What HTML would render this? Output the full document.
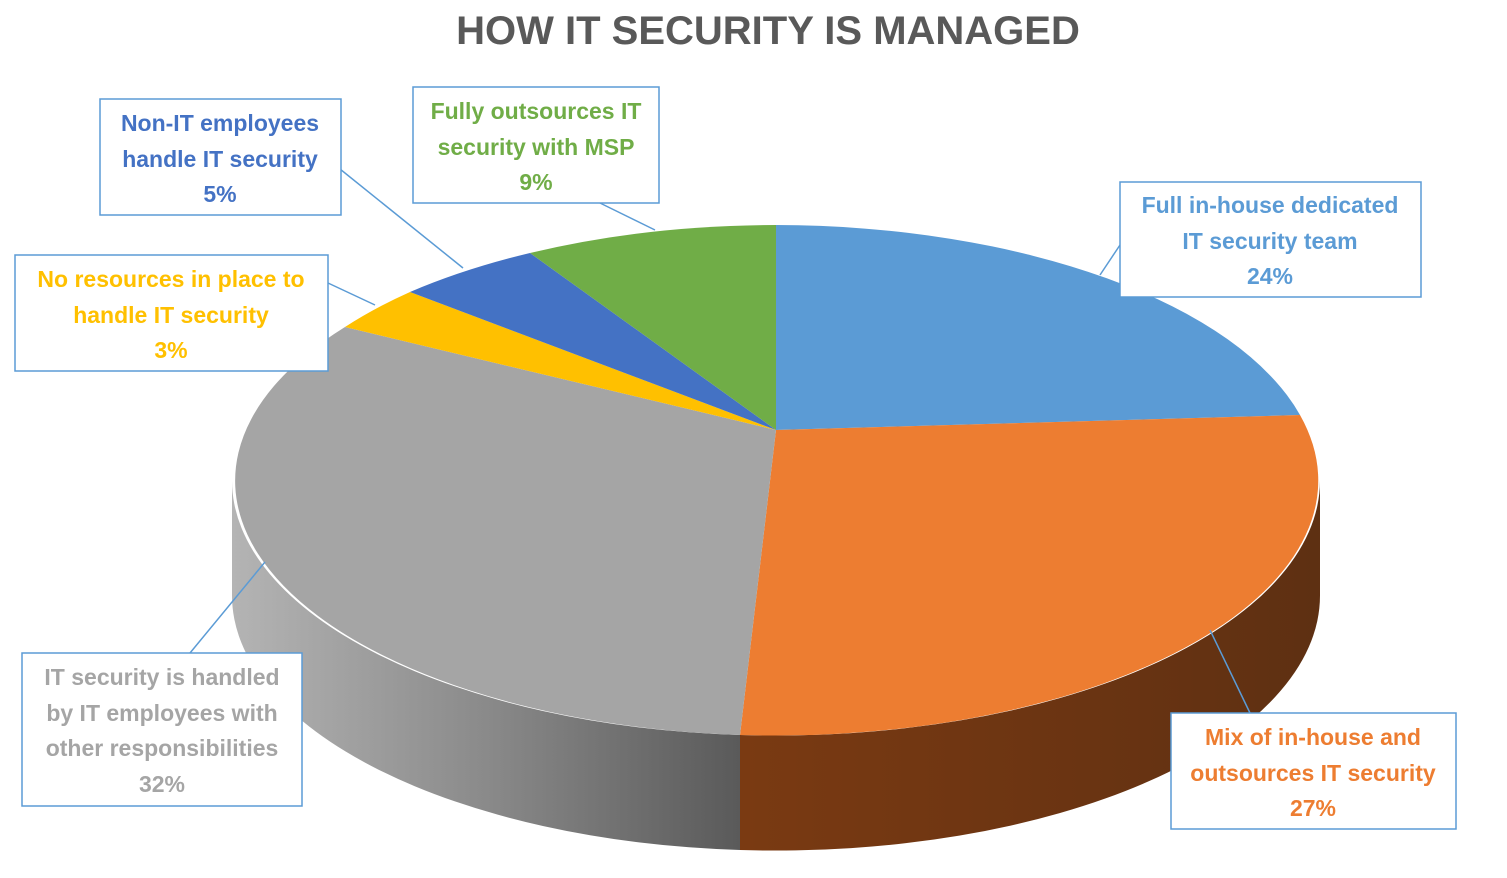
<!DOCTYPE html>
<html><head><style>
body{margin:0;background:#fff;}
svg text{font-family:"Liberation Sans",sans-serif;font-weight:bold;}
</style></head><body>
<svg width="1507" height="873" viewBox="0 0 1507 873" xmlns="http://www.w3.org/2000/svg">
<defs>
<linearGradient id="gs" x1="0" x2="1" y1="0" y2="0">
<stop offset="0" stop-color="#b4b4b4"/><stop offset="0.5" stop-color="#8a8a8a"/><stop offset="1" stop-color="#5a5a5a"/></linearGradient>
<linearGradient id="os" x1="0" x2="1" y1="0" y2="0">
<stop offset="0" stop-color="#7a3a12"/><stop offset="0.6" stop-color="#6a3412"/><stop offset="1" stop-color="#5e3012"/></linearGradient>
</defs>
<text x="768" y="44" text-anchor="middle" font-size="40" fill="#595959">HOW IT SECURITY IS MANAGED</text>
<!-- sides -->
<path d="M232,480 A544,255 0 0 0 740,735 L740,850 A544,255 0 0 1 232,595 Z" fill="url(#gs)"/>
<path d="M740,735 A544,255 0 0 0 1320,480 L1320,595 A544,255 0 0 1 740,850 Z" fill="url(#os)"/>
<!-- top -->
<path d="M776,430 L776,225 A544,255 0 0 1 1300,415 Z" fill="#5B9BD5"/>
<path d="M776,430 L1300,415 A544,255 0 0 1 740,735 Z" fill="#ED7D31"/>
<path d="M776,430 L740,735 A544,255 0 0 1 345,327 Z" fill="#A5A5A5"/>
<path d="M776,430 L345,327 A544,255 0 0 1 410,292 Z" fill="#FFC000"/>
<path d="M776,430 L410,292 A544,255 0 0 1 530,253 Z" fill="#4472C4"/>
<path d="M776,430 L530,253 A544,255 0 0 1 776,225 Z" fill="#70AD47"/>
<g stroke="#5B9BD5" stroke-width="1.5" fill="#fff">
<line x1="335" y1="165" x2="463" y2="268"/>
<line x1="600" y1="203" x2="655" y2="230"/>
<line x1="1120" y1="245" x2="1100" y2="275"/>
<line x1="328" y1="283" x2="375" y2="305"/>
<line x1="190" y1="653" x2="265" y2="562"/>
<line x1="1210" y1="630" x2="1250" y2="713"/>
<rect x="100" y="99" width="241" height="116"/>
<rect x="413" y="87" width="246" height="116"/>
<rect x="1120" y="182" width="301" height="115"/>
<rect x="15" y="255" width="313" height="116"/>
<rect x="22" y="653" width="280" height="153"/>
<rect x="1171" y="713" width="285" height="116"/>
</g>
<g font-size="23" text-anchor="middle">
<g fill="#4472C4"><text x="220" y="131">Non-IT employees</text><text x="220" y="167">handle IT security</text><text x="220" y="202">5%</text></g>
<g fill="#70AD47"><text x="536" y="119">Fully outsources IT</text><text x="536" y="155">security with MSP</text><text x="536" y="190">9%</text></g>
<g fill="#5B9BD5"><text x="1270" y="213">Full in-house dedicated</text><text x="1270" y="249">IT security team</text><text x="1270" y="284">24%</text></g>
<g fill="#FFC000"><text x="171" y="287">No resources in place to</text><text x="171" y="323">handle IT security</text><text x="171" y="358">3%</text></g>
<g fill="#A5A5A5"><text x="162" y="685">IT security is handled</text><text x="162" y="721">by IT employees with</text><text x="162" y="756">other responsibilities</text><text x="162" y="792">32%</text></g>
<g fill="#ED7D31"><text x="1313" y="745">Mix of in-house and</text><text x="1313" y="781">outsources IT security</text><text x="1313" y="816">27%</text></g>
</g>
</svg>
</body></html>
